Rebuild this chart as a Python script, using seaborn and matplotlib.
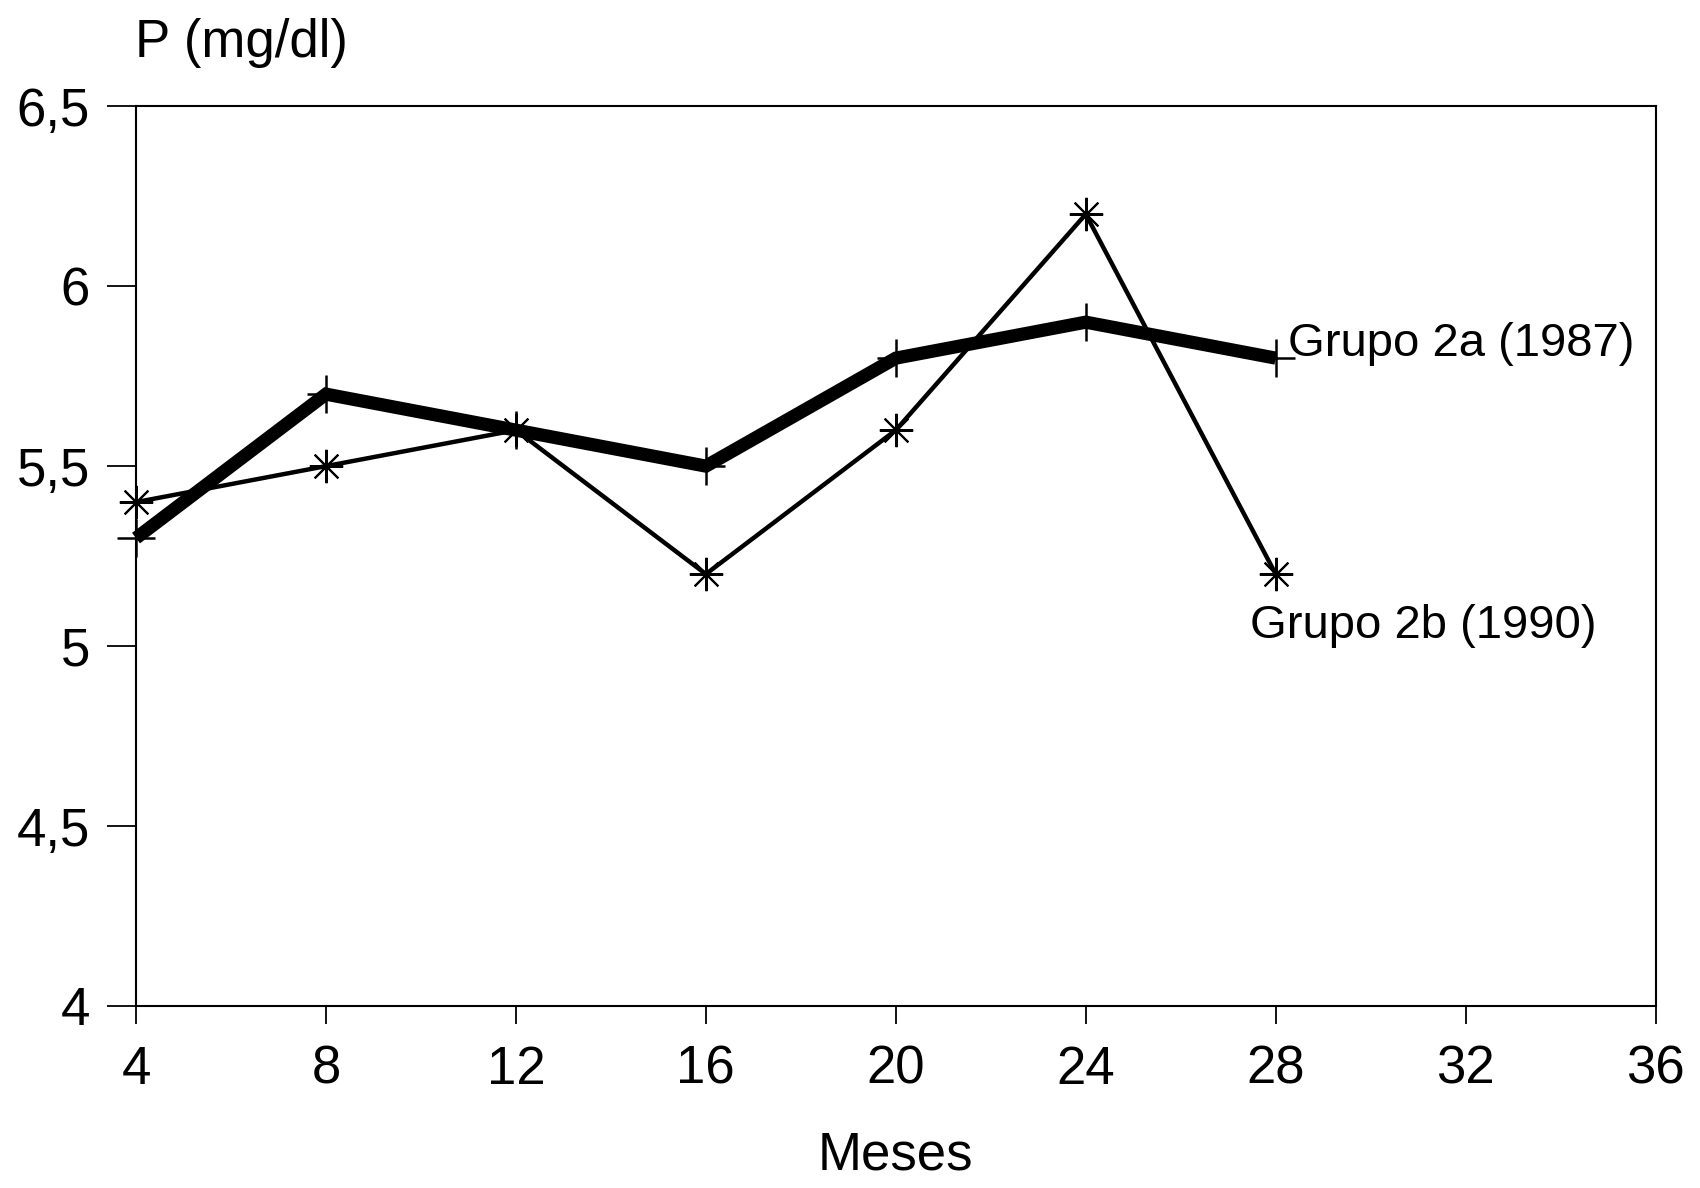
import matplotlib
matplotlib.use("Agg")
import matplotlib.pyplot as plt
import seaborn as sns
import pandas as pd

# Serum phosphorus (mg/dl) by month of follow-up
meses = [4, 8, 12, 16, 20, 24, 28]
grupo_2a = [5.3, 5.7, 5.6, 5.5, 5.8, 5.9, 5.8]
grupo_2b = [5.4, 5.5, 5.6, 5.2, 5.6, 6.2, 5.2]

x_ticks = [4, 8, 12, 16, 20, 24, 28, 32, 36]
y_ticks = [4, 4.5, 5, 5.5, 6, 6.5]
y_tick_labels = ["4", "4,5", "5", "5,5", "6", "6,5"]

df_a = pd.DataFrame({"Meses": meses, "P": grupo_2a})
df_b = pd.DataFrame({"Meses": meses, "P": grupo_2b})

sns.set_theme(style="white")
plt.rcParams["font.family"] = ["Liberation Sans", "DejaVu Sans"]

fig = plt.figure(figsize=(17, 11.88), dpi=100)
ax = fig.add_axes([0.0800, 0.1532, 0.8939, 0.7574])

sns.lineplot(data=df_b, x="Meses", y="P", ax=ax, color="black", lw=3.2,
             marker=(8, 2, 0), markersize=24, markeredgewidth=1.5,
             markeredgecolor="black", zorder=3, clip_on=False)
sns.lineplot(data=df_a, x="Meses", y="P", ax=ax, color="black", lw=9.5,
             marker="+", markersize=27, markeredgewidth=1.8,
             markeredgecolor="black", zorder=4, clip_on=False,
             solid_capstyle="butt", solid_joinstyle="miter")

ax.set_xlim(4, 36)
ax.set_ylim(4, 6.5)
ax.set_xticks(x_ticks)
ax.set_xticklabels([str(t) for t in x_ticks])
ax.set_yticks(y_ticks)
ax.set_yticklabels(y_tick_labels)

for side in ["left", "right", "top", "bottom"]:
    ax.spines[side].set_visible(True)
    ax.spines[side].set_color("black")
    ax.spines[side].set_linewidth(1.5)

ax.tick_params(axis="x", direction="out", length=13, width=1.3, colors="black",
               labelsize=38, pad=15, bottom=True)
ax.tick_params(axis="y", direction="out", length=21, width=1.3, colors="black",
               labelsize=38, pad=12, left=True)

ax.set_xlabel("Meses", fontsize=38, color="black", labelpad=26)
ax.set_ylabel("")
fig.text(0.0797, 0.964, "P (mg/dl)", fontsize=38, color="black",
         ha="left", va="center")

ax.text(28.25, 5.84, "Grupo 2a (1987)", fontsize=34, color="black",
        ha="left", va="center")
ax.text(27.45, 5.055, "Grupo 2b (1990)", fontsize=34, color="black",
        ha="left", va="center")

fig.savefig("out.png", dpi=100, facecolor="white")
